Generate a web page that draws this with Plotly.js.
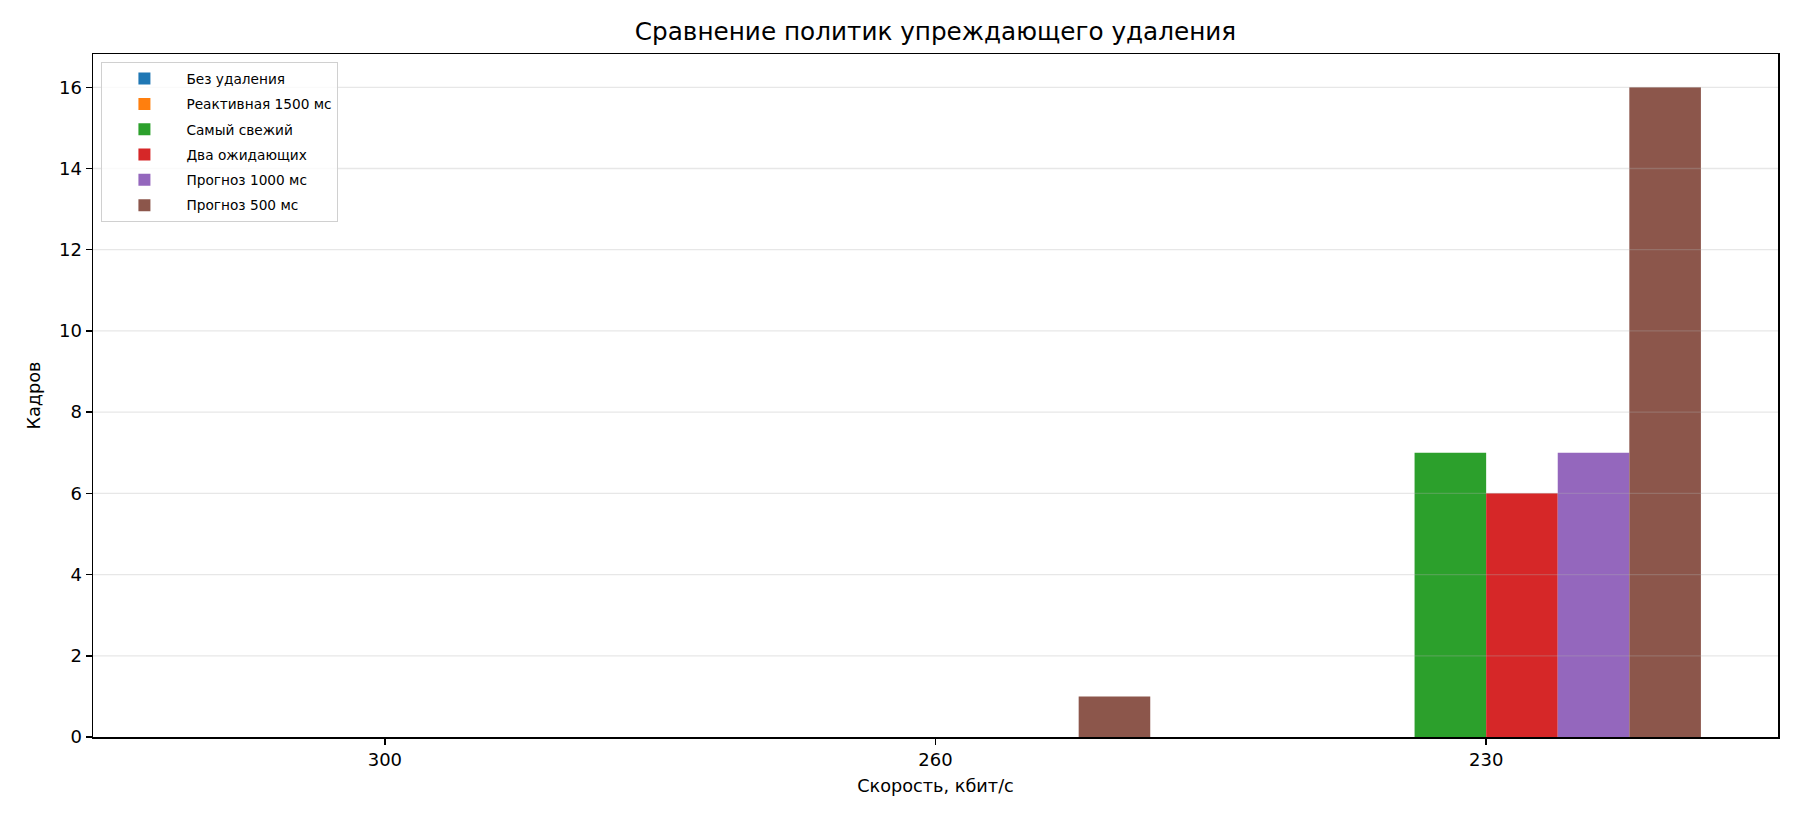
<!DOCTYPE html>
<html>
<head>
<meta charset="utf-8">
<script src="https://cdn.plot.ly/plotly-3.0.1.min.js"></script>
<style>html,body{margin:0;padding:0;background:#fff;}#chart{width:1800px;height:825px;}</style>
</head>
<body>
<div id="chart"></div>
<script>
const categories = ["300", "260", "230"];
const seriesNames = ["Без удаления", "Реактивная 1500 мс", "Самый свежий", "Два ожидающих", "Прогноз 1000 мс", "Прогноз 500 мс"];
const noDrop = [0, 0, 0];
const reactive1500 = [0, 0, 0];
const freshest = [0, 0, 7];
const twoPending = [0, 0, 6];
const forecast1000 = [0, 0, 7];
const forecast500 = [0, 1, 16];
const seriesColors = ["#1f77b4", "#ff7f0e", "#2ca02c", "#d62728", "#9467bd", "#8c564b"];
const yTicks = [0, 2, 4, 6, 8, 10, 12, 14, 16];

const allSeries = [noDrop, reactive1500, freshest, twoPending, forecast1000, forecast500];
const font = "DejaVu Sans, sans-serif";

const traces = allSeries.map((vals, i) => ({
  type: "bar",
  name: seriesNames[i],
  legendgroup: "g" + i,
  x: categories,
  y: vals,
  marker: {color: seriesColors[i], line: {width: 0}},
  hoverinfo: "x+y+name"
}));

const gridShapes = yTicks.filter(v => v > 0).map(v => ({
  type: "line", xref: "paper", yref: "y", x0: 0, x1: 1, y0: v, y1: v,
  line: {color: "rgba(176,176,176,0.3)", width: 1.3}, layer: "above"
}));

const layout = {
  width: 1800, height: 825,
  margin: {l: 93, r: 22, t: 54, b: 88},
  paper_bgcolor: "#fff", plot_bgcolor: "#fff",
  font: {family: font, size: 18, color: "#000"},
  title: {text: "Сравнение политик упреждающего удаления", font: {family: font, size: 24.7, color: "#000"}, xref: "paper", x: 0.5, xanchor: "center", y: 0.962, yanchor: "middle"},
  barmode: "group",
  bargap: 0.22,
  bargroupgap: 0,
  showlegend: true,
  legend: {
    x: 0.005, y: 0.988, xanchor: "left", yanchor: "top",
    bgcolor: "rgba(255,255,255,0.8)", bordercolor: "#d0d0d0", borderwidth: 1,
    font: {family: font, size: 13.7, color: "#000"},
    tracegroupgap: 4.5, itemwidth: 74
  },
  xaxis: {
    type: "category",
    range: [-0.53, 2.53],
    showline: true, mirror: true, linecolor: "#000", linewidth: 1.5,
    ticks: "outside", ticklen: 6, tickwidth: 1.5, tickcolor: "#000",
    showgrid: false, zeroline: false,
    tickfont: {family: font, size: 18, color: "#000"},
    title: {text: "Скорость, кбит/с", font: {family: font, size: 17.7, color: "#000"}, standoff: 10}
  },
  yaxis: {
    range: [0, 16.82],
    tickvals: yTicks,
    ticktext: yTicks.map(String),
    showline: true, mirror: true, linecolor: "#000", linewidth: 1.5,
    ticks: "outside", ticklen: 6, tickwidth: 1.5, tickcolor: "#000",
    showgrid: false, zeroline: false,
    tickfont: {family: font, size: 18, color: "#000"},
    title: {text: "Кадров", font: {family: font, size: 17.7, color: "#000"}, standoff: 14}
  },
  shapes: gridShapes
};

Plotly.newPlot("chart", traces, layout, {displayModeBar: false, staticPlot: true});
</script>
</body>
</html>
